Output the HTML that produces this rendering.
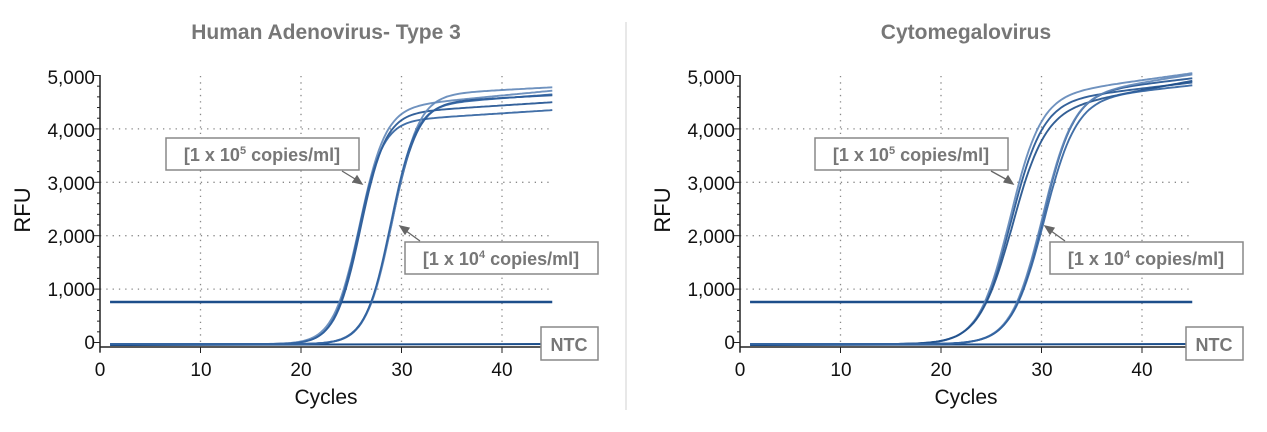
<!DOCTYPE html>
<html><head><meta charset="utf-8"><style>
html,body{margin:0;padding:0;background:#fff;}
svg{display:block;font-family:"Liberation Sans",Arial,sans-serif;}
</style></head><body>
<svg id="s" width="1267" height="432" viewBox="0 0 1267 432" xmlns="http://www.w3.org/2000/svg">
<line x1="626" y1="22" x2="626" y2="410" stroke="#d0d0d0" stroke-width="1"/>
<text x="326" y="39" text-anchor="middle" font-size="21" font-weight="bold" fill="#777">Human Adenovirus- Type 3</text>
<text x="966" y="39" text-anchor="middle" font-size="21" font-weight="bold" fill="#777">Cytomegalovirus</text>
<g id="L"></g><g id="R"></g>
<g font-size="19" fill="#111" text-anchor="end">
<text x="95" y="84">5,000</text><text x="95" y="137">4,000</text><text x="95" y="190">3,000</text><text x="95" y="243">2,000</text><text x="95" y="296">1,000</text><text x="95" y="349">0</text>
<text x="735" y="84">5,000</text><text x="735" y="137">4,000</text><text x="735" y="190">3,000</text><text x="735" y="243">2,000</text><text x="735" y="296">1,000</text><text x="735" y="349">0</text>
</g>
<g font-size="19" fill="#111" text-anchor="middle">
<text x="100" y="376">0</text><text x="201" y="376">10</text><text x="301" y="376">20</text><text x="402" y="376">30</text><text x="502" y="376">40</text>
<text x="740" y="376">0</text><text x="841" y="376">10</text><text x="941" y="376">20</text><text x="1042" y="376">30</text><text x="1142" y="376">40</text>
</g>
<text x="326" y="404" text-anchor="middle" font-size="21" fill="#111">Cycles</text>
<text x="966" y="404" text-anchor="middle" font-size="21" fill="#111">Cycles</text>
<text transform="translate(30,210) rotate(-90)" text-anchor="middle" font-size="22" fill="#111">RFU</text>
<text transform="translate(670,210) rotate(-90)" text-anchor="middle" font-size="22" fill="#111">RFU</text>
<g font-size="18" font-weight="bold" fill="#777" text-anchor="middle">
<rect x="166" y="138" width="193" height="32" fill="#fff" stroke="#888" stroke-width="1.5"/>
<text x="262" y="161">[1 x 10<tspan font-size="11" dy="-7">5</tspan><tspan dy="7"> copies/ml]</tspan></text>
<rect x="405" y="242" width="193" height="32" fill="#fff" stroke="#888" stroke-width="1.5"/>
<text x="501" y="265">[1 x 10<tspan font-size="11" dy="-7">4</tspan><tspan dy="7"> copies/ml]</tspan></text>
<rect x="541" y="327" width="57" height="33" fill="#fff" stroke="#888" stroke-width="1.5"/>
<text x="569" y="351">NTC</text>
<rect x="815" y="138" width="193" height="32" fill="#fff" stroke="#888" stroke-width="1.5"/>
<text x="911" y="161">[1 x 10<tspan font-size="11" dy="-7">5</tspan><tspan dy="7"> copies/ml]</tspan></text>
<rect x="1050" y="242" width="193" height="32" fill="#fff" stroke="#888" stroke-width="1.5"/>
<text x="1146" y="265">[1 x 10<tspan font-size="11" dy="-7">4</tspan><tspan dy="7"> copies/ml]</tspan></text>
<rect x="1186" y="327" width="57" height="33" fill="#fff" stroke="#888" stroke-width="1.5"/>
<text x="1214" y="351">NTC</text>
</g>
<g stroke="#666" stroke-width="1.3" fill="#666">
<line x1="342" y1="171" x2="360" y2="182"/><polygon points="362,184 353,182 357,176"/>
<line x1="420" y1="241" x2="402" y2="228"/><polygon points="400,226 409,228 405,234"/>
<line x1="991" y1="171" x2="1011" y2="182"/><polygon points="1013,184 1004,182 1008,176"/>
<line x1="1065" y1="241" x2="1047" y2="228"/><polygon points="1045,226 1054,228 1050,234"/>
</g>
</svg>
<script>
function chart(gid,x0,cfg){
 var g=document.getElementById(gid),h="";
 var X=function(c){return x0+10.05*c}, Y=function(v){return 342.5-v*0.0534};
 [10,20,30,40].forEach(function(c){h+='<line x1="'+X(c)+'" y1="76" x2="'+X(c)+'" y2="346" stroke="#888" stroke-width="1.3" stroke-dasharray="1.3,5"/>';});
 [1000,2000,3000,4000].forEach(function(v){h+='<line x1="'+x0+'" y1="'+Y(v)+'" x2="'+X(45)+'" y2="'+Y(v)+'" stroke="#888" stroke-width="1.3" stroke-dasharray="1.3,5"/>';});
 h+='<line x1="'+x0+'" y1="75" x2="'+x0+'" y2="352" stroke="#222" stroke-width="1.5"/>';
 h+='<line x1="'+x0+'" y1="347" x2="'+X(45)+'" y2="347" stroke="#222" stroke-width="1.5"/>';
 for(var v=0;v<=5000;v+=200){var w=(v%1000==0)?6:3;h+='<line x1="'+(x0-w)+'" y1="'+Y(v)+'" x2="'+x0+'" y2="'+Y(v)+'" stroke="#222" stroke-width="1"/>';}
 for(var c=0;c<=40;c+=10)h+='<line x1="'+X(c)+'" y1="347" x2="'+X(c)+'" y2="353" stroke="#222" stroke-width="1"/>';
 h+='<line x1="'+X(1)+'" y1="302" x2="'+X(45)+'" y2="302" stroke="#1d4e8a" stroke-width="2.4"/>';
 h+='<path d="M'+X(1)+' 345 L'+X(45)+' 344" stroke="#1d4e8a" stroke-width="2" fill="none"/>';
 cfg.forEach(function(s){
  var d="";
  for(var c=1;c<=45.001;c+=0.25){var f=s.m/(1+Math.exp(-(c-s.c0)/s.k))+s.sl*Math.max(0,c-s.c0)-30;d+=(d?"L":"M")+X(c).toFixed(1)+" "+Y(f).toFixed(1);}
  h+='<path d="'+d+'" stroke="'+s.col+'" stroke-width="1.9" fill="none" opacity="0.9"/>';
 });
 g.innerHTML=h;
}
var L=[
 {m:4300,c0:25.9,k:1.25,sl:12,col:"#1f5190"},{m:4400,c0:25.8,k:1.3,sl:18,col:"#5f86b8"},{m:4150,c0:25.7,k:1.2,sl:12,col:"#2f619e"},
 {m:4500,c0:29.0,k:1.3,sl:10,col:"#1f5190"},{m:4650,c0:29.1,k:1.3,sl:10,col:"#5f86b8"},{m:4450,c0:28.9,k:1.25,sl:14,col:"#2f619e"}];
var R=[
 {m:4500,c0:26.9,k:1.6,sl:22,col:"#1f5190"},{m:4600,c0:26.8,k:1.55,sl:26,col:"#5f86b8"},{m:4300,c0:27.0,k:1.65,sl:35,col:"#1d4e8a"},
 {m:4650,c0:30.1,k:1.55,sl:22,col:"#1f5190"},{m:4600,c0:30.0,k:1.55,sl:30,col:"#5f86b8"},{m:4550,c0:30.2,k:1.6,sl:20,col:"#2f619e"}];
chart("L",100,L);chart("R",740,R);
</script>
</body></html>
